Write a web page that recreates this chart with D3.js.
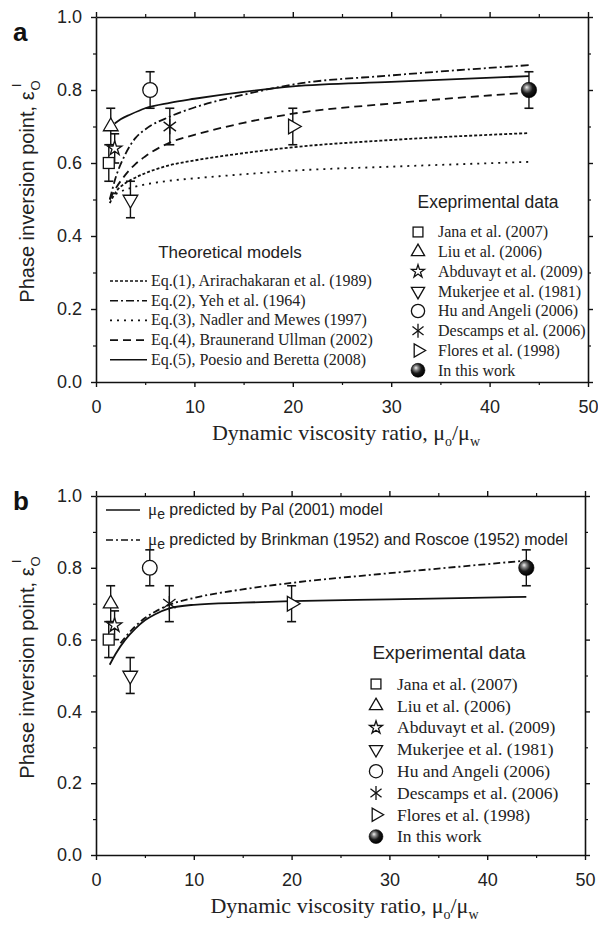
<!DOCTYPE html>
<html>
<head>
<meta charset="utf-8">
<script src="https://cdn.jsdelivr.net/npm/d3@7"></script>
<style>
  body { margin: 0; background: #fff; }
  svg { display: block; }
  .sans { font-family: "Liberation Sans", Arial, sans-serif; }
  .serif { font-family: "Liberation Serif", "Times New Roman", serif; }
</style>
</head>
<body>
<div id="chart"></div>
<script>
// experimental data (shared by both panels)
const expNames = ["Jana et al. (2007)", "Liu et al. (2006)", "Abduvayt et al. (2009)", "Mukerjee et al. (1981)",
  "Hu and Angeli (2006)", "Descamps et al. (2006)", "Flores et al. (1998)", "In this work"];
const expSymbols = ["square", "triangle", "star", "triangleDown", "circle", "asterisk", "triangleRight", "sphere"];
const expX = [1.3, 1.5, 1.9, 3.5, 5.5, 7.5, 20, 44];
const expY = [0.60, 0.70, 0.64, 0.50, 0.80, 0.70, 0.70, 0.80];
const expErr = [0.05, 0.05, 0.04, 0.05, 0.05, 0.05, 0.05, 0.05];

// panel a: theoretical models
const modelNames = ["Eq.(1), Arirachakaran et al. (1989)", "Eq.(2), Yeh et al. (1964)", "Eq.(3), Nadler and Mewes (1997)",
  "Eq.(4), Braunerand Ullman (2002)", "Eq.(5), Poesio and Beretta (2008)"];
const modelDash = ["3,2", "8,3,2,3", "2,5", "8,5", null];
const eq1X = [1.4, 2, 3, 3.5, 5, 6, 7.5, 10, 15, 20, 30, 44];
const eq1Y = [0.49, 0.52, 0.545, 0.553, 0.572, 0.582, 0.594, 0.607, 0.627, 0.643, 0.663, 0.682];
const eq2X = [1.4, 2, 3, 4, 5, 7.5, 10, 15, 20, 30, 44];
const eq2Y = [0.50, 0.56, 0.625, 0.668, 0.692, 0.727, 0.752, 0.787, 0.815, 0.84, 0.868];
const eq3X = [2, 3, 4, 6, 8, 10, 15, 20, 30, 44];
const eq3Y = [0.515, 0.527, 0.535, 0.546, 0.553, 0.558, 0.569, 0.579, 0.59, 0.603];
const eq4X = [1.4, 2, 3, 4, 5, 7.5, 10, 15, 20, 30, 44];
const eq4Y = [0.50, 0.53, 0.568, 0.597, 0.618, 0.656, 0.677, 0.71, 0.735, 0.763, 0.793];
const eq5X = [1.9, 2.5, 3.5, 5, 7.5, 10, 15, 20, 30, 44];
const eq5Y = [0.708, 0.72, 0.733, 0.75, 0.765, 0.776, 0.795, 0.81, 0.822, 0.838];

// panel b: effective viscosity models
const palX = [1.4, 2, 3, 4, 5, 6, 7.5, 10, 15, 20, 30, 44];
const palY = [0.53, 0.56, 0.60, 0.63, 0.654, 0.67, 0.687, 0.697, 0.703, 0.707, 0.712, 0.719];
const brinkX = [2.5, 3, 4, 5, 6, 7.5, 10, 15, 20, 30, 44];
const brinkY = [0.59, 0.607, 0.637, 0.66, 0.677, 0.697, 0.716, 0.74, 0.758, 0.785, 0.82];

const xTicks = [0, 10, 20, 30, 40, 50];
const xMinor = [5, 15, 25, 35, 45];
const yTicks = [0, 0.2, 0.4, 0.6, 0.8, 1.0];
const yMinor = [0.1, 0.3, 0.5, 0.7, 0.9];

const W = 598, H = 925;
const svg = d3.select("#chart").append("svg").attr("width", W).attr("height", H);

const defs = svg.append("defs");
const grad = defs.append("radialGradient").attr("id", "sphere")
  .attr("cx", "40%").attr("cy", "40%").attr("r", "60%").attr("fx", "35%").attr("fy", "32%");
grad.append("stop").attr("offset", "0%").attr("stop-color", "#f4f4f4");
grad.append("stop").attr("offset", "25%").attr("stop-color", "#8a8a8a");
grad.append("stop").attr("offset", "60%").attr("stop-color", "#1a1a1a");
grad.append("stop").attr("offset", "100%").attr("stop-color", "#000");

function drawMarker(g, type, cx, cy, s) {
  const m = g.append("g").attr("transform", `translate(${cx},${cy})`);
  const st = { fill: "#fff", stroke: "#111", "stroke-width": 1.3 };
  const apply = sel => { for (const k in st) sel.attr(k, st[k]); return sel; };
  if (type === "square") {
    apply(m.append("rect").attr("x", -s * 0.78).attr("y", -s * 0.78).attr("width", s * 1.56).attr("height", s * 1.56));
  } else if (type === "triangle") {
    apply(m.append("path").attr("d", d3.symbol(d3.symbolTriangle, s * s * 1.9)()));
  } else if (type === "triangleDown") {
    apply(m.append("path").attr("d", d3.symbol(d3.symbolTriangle, s * s * 1.9)()).attr("transform", "rotate(180)"));
  } else if (type === "triangleRight") {
    apply(m.append("path").attr("d", d3.symbol(d3.symbolTriangle, s * s * 1.9)()).attr("transform", "rotate(90)"));
  } else if (type === "star") {
    apply(m.append("path").attr("d", d3.symbol(d3.symbolStar, s * s * 1.3)()));
  } else if (type === "circle") {
    apply(m.append("circle").attr("r", s * 1.05));
  } else if (type === "asterisk") {
    const r = s * 1.1;
    const lines = [[0, -r, 0, r], [-r * 0.8, -r * 0.6, r * 0.8, r * 0.6], [-r * 0.8, r * 0.6, r * 0.8, -r * 0.6]];
    lines.forEach(l => m.append("line").attr("x1", l[0]).attr("y1", l[1]).attr("x2", l[2]).attr("y2", l[3])
      .attr("stroke", "#111").attr("stroke-width", 1.3));
  } else if (type === "sphere") {
    m.append("circle").attr("r", s * 1.1).attr("fill", "url(#sphere)").attr("stroke", "#000").attr("stroke-width", 0.6);
  }
}

function drawPanel(opt) {
  const x = d3.scaleLinear().domain([0, 50]).range([opt.left, opt.right]);
  const y = d3.scaleLinear().domain([0, 1]).range([opt.bottom, opt.top]);
  const g = svg.append("g");

  // axes
  const axStyle = sel => {
    sel.select(".domain").attr("stroke", "#111").attr("stroke-width", 1.6);
    sel.selectAll(".tick line").attr("stroke", "#111").attr("stroke-width", 1.4);
    sel.selectAll("text").attr("fill", "#222").attr("font-size", 18)
      .attr("font-family", "Liberation Sans, Arial, sans-serif");
  };
  const minorStyle = sel => {
    sel.select(".domain").remove();
    sel.selectAll(".tick line").attr("stroke", "#111").attr("stroke-width", 1.2);
    sel.selectAll("text").remove();
  };
  g.append("g").attr("transform", `translate(0,${opt.bottom})`)
    .call(d3.axisBottom(x).tickValues(xTicks).tickSize(5).tickSizeOuter(0).tickPadding(13).tickFormat(d3.format("d")))
    .call(axStyle);
  g.append("g").attr("transform", `translate(0,${opt.bottom})`)
    .call(d3.axisBottom(x).tickValues(xMinor).tickSize(3)).call(minorStyle);
  g.append("g").attr("transform", `translate(0,${opt.top})`)
    .call(d3.axisTop(x).tickValues(xTicks).tickSize(5).tickSizeOuter(0).tickFormat(""))
    .call(axStyle);
  g.append("g").attr("transform", `translate(0,${opt.top})`)
    .call(d3.axisTop(x).tickValues(xMinor).tickSize(3)).call(minorStyle);
  g.append("g").attr("transform", `translate(${opt.left},0)`)
    .call(d3.axisLeft(y).tickValues(yTicks).tickSize(5).tickSizeOuter(0).tickPadding(9).tickFormat(d3.format(".1f")))
    .call(axStyle);
  g.append("g").attr("transform", `translate(${opt.left},0)`)
    .call(d3.axisLeft(y).tickValues(yMinor).tickSize(3)).call(minorStyle);
  g.append("g").attr("transform", `translate(${opt.right},0)`)
    .call(d3.axisRight(y).tickValues(yTicks).tickSize(5).tickSizeOuter(0).tickFormat(""))
    .call(axStyle);
  g.append("g").attr("transform", `translate(${opt.right},0)`)
    .call(d3.axisRight(y).tickValues(yMinor).tickSize(3)).call(minorStyle);

  // curves
  const line = d3.line().x(d => x(d[0])).y(d => y(d[1])).curve(d3.curveMonotoneX);
  opt.curves.forEach(c => {
    g.append("path").attr("d", line(d3.zip(c.xs, c.ys)))
      .attr("fill", "none").attr("stroke", "#111").attr("stroke-width", 1.8)
      .attr("stroke-dasharray", c.dash);
  });

  // error bars
  expX.forEach((xv, i) => {
    const cx = x(xv), y0 = y(expY[i] - expErr[i]), y1 = y(expY[i] + expErr[i]);
    g.append("line").attr("x1", cx).attr("x2", cx).attr("y1", y0).attr("y2", y1)
      .attr("stroke", "#111").attr("stroke-width", 1.4);
    [y0, y1].forEach(yy => g.append("line").attr("x1", cx - 4.5).attr("x2", cx + 4.5).attr("y1", yy).attr("y2", yy)
      .attr("stroke", "#111").attr("stroke-width", 1.6));
  });
  // markers
  expX.forEach((xv, i) => drawMarker(g, expSymbols[i], x(xv), y(expY[i]), 7));

  // panel letter
  g.append("text").attr("class", "sans").attr("x", 13).attr("y", opt.top + opt.letterDy)
    .attr("font-size", 26).attr("font-weight", "bold").attr("fill", "#111").text(opt.letter);

  // y label
  const yl = g.append("text").attr("class", "sans").attr("font-size", 20).attr("fill", "#222")
    .attr("text-anchor", "middle")
    .attr("transform", `translate(34,${(opt.top + opt.bottom) / 2 - 8}) rotate(-90)`);
  yl.append("tspan").text("Phase inversion point, \u03b5");
  yl.append("tspan").attr("font-size", 13).attr("dy", 6).attr("dx", 1).text("O");
  yl.append("tspan").attr("font-size", 13).attr("dy", -19).attr("dx", -7).text("I");

  // x label
  const xl = g.append("text").attr("class", "serif").attr("font-size", 22).attr("fill", "#222")
    .attr("text-anchor", "middle").attr("x", (opt.left + opt.right) / 2 + 4).attr("y", opt.bottom + 58);
  xl.append("tspan").text("Dynamic viscosity ratio, \u03bc");
  xl.append("tspan").attr("font-size", 14).attr("dy", 6).text("o");
  xl.append("tspan").attr("dy", -6).text("/\u03bc");
  xl.append("tspan").attr("font-size", 14).attr("dy", 6).text("w");

  // experimental legend
  const L = opt.expLegend;
  g.append("text").attr("class", "sans").attr("font-size", L.titleSize).attr("fill", "#222")
    .attr("text-anchor", "middle").attr("x", L.titleX).attr("y", L.titleY).text(L.title);
  expNames.forEach((n, i) => {
    const yy = L.y0 + i * L.dy;
    drawMarker(g, expSymbols[i], L.symX, yy, 6.3);
    g.append("text").attr("class", "serif").attr("font-size", L.size).attr("fill", "#222")
      .attr("x", L.textX).attr("y", yy + L.size * 0.33).text(n);
  });
  return { g, x, y };
}

// panel a
const pa = drawPanel({
  left: 96, right: 588, top: 17, bottom: 382, letter: "a", letterDy: 24,
  curves: [
    { xs: eq1X, ys: eq1Y, dash: modelDash[0] },
    { xs: eq2X, ys: eq2Y, dash: modelDash[1] },
    { xs: eq3X, ys: eq3Y, dash: modelDash[2] },
    { xs: eq4X, ys: eq4Y, dash: modelDash[3] },
    { xs: eq5X, ys: eq5Y, dash: modelDash[4] }
  ],
  expLegend: { title: "Exeprimental data", titleX: 488, titleY: 208, titleSize: 17.5,
    y0: 232, dy: 19.75, symX: 418, textX: 438, size: 16 }
});
pa.g.append("text").attr("class", "sans").attr("font-size", 17).attr("fill", "#222")
  .attr("text-anchor", "middle").attr("x", 230).attr("y", 258).text("Theoretical models");
modelNames.forEach((n, i) => {
  const yy = 281 + i * 19.7;
  pa.g.append("line").attr("x1", 110).attr("x2", 147).attr("y1", yy).attr("y2", yy)
    .attr("stroke", "#111").attr("stroke-width", 1.6).attr("stroke-dasharray", modelDash[i]);
  pa.g.append("text").attr("class", "serif").attr("font-size", 16).attr("fill", "#222")
    .attr("x", 151).attr("y", yy + 5).text(n);
});

// panel b
const pb = drawPanel({
  left: 96, right: 585, top: 496, bottom: 855, letter: "b", letterDy: 14,
  curves: [
    { xs: palX, ys: palY, dash: null },
    { xs: brinkX, ys: brinkY, dash: "7,3,2,3" }
  ],
  expLegend: { title: "Experimental data", titleX: 449, titleY: 659, titleSize: 19,
    y0: 684, dy: 21.8, symX: 376, textX: 397, size: 17.5 }
});
const bLegend = [
  { dash: null, text: " predicted by Pal (2001) model" },
  { dash: "7,3,2,3", text: " predicted by Brinkman (1952) and Roscoe (1952) model" }
];
bLegend.forEach((d, i) => {
  const yy = 510 + i * 30;
  pb.g.append("line").attr("x1", 106).attr("x2", 140).attr("y1", yy).attr("y2", yy)
    .attr("stroke", "#111").attr("stroke-width", 1.6).attr("stroke-dasharray", d.dash);
  const t = pb.g.append("text").attr("class", "sans").attr("font-size", 16).attr("fill", "#222")
    .attr("x", 148).attr("y", yy + 5);
  t.append("tspan").attr("class", "serif").attr("font-size", 17).text("\u03bc");
  t.append("tspan").attr("font-size", 14).attr("dy", 4).text("e");
  t.append("tspan").attr("dy", -4).text(d.text);
});
</script>
</body>
</html>
